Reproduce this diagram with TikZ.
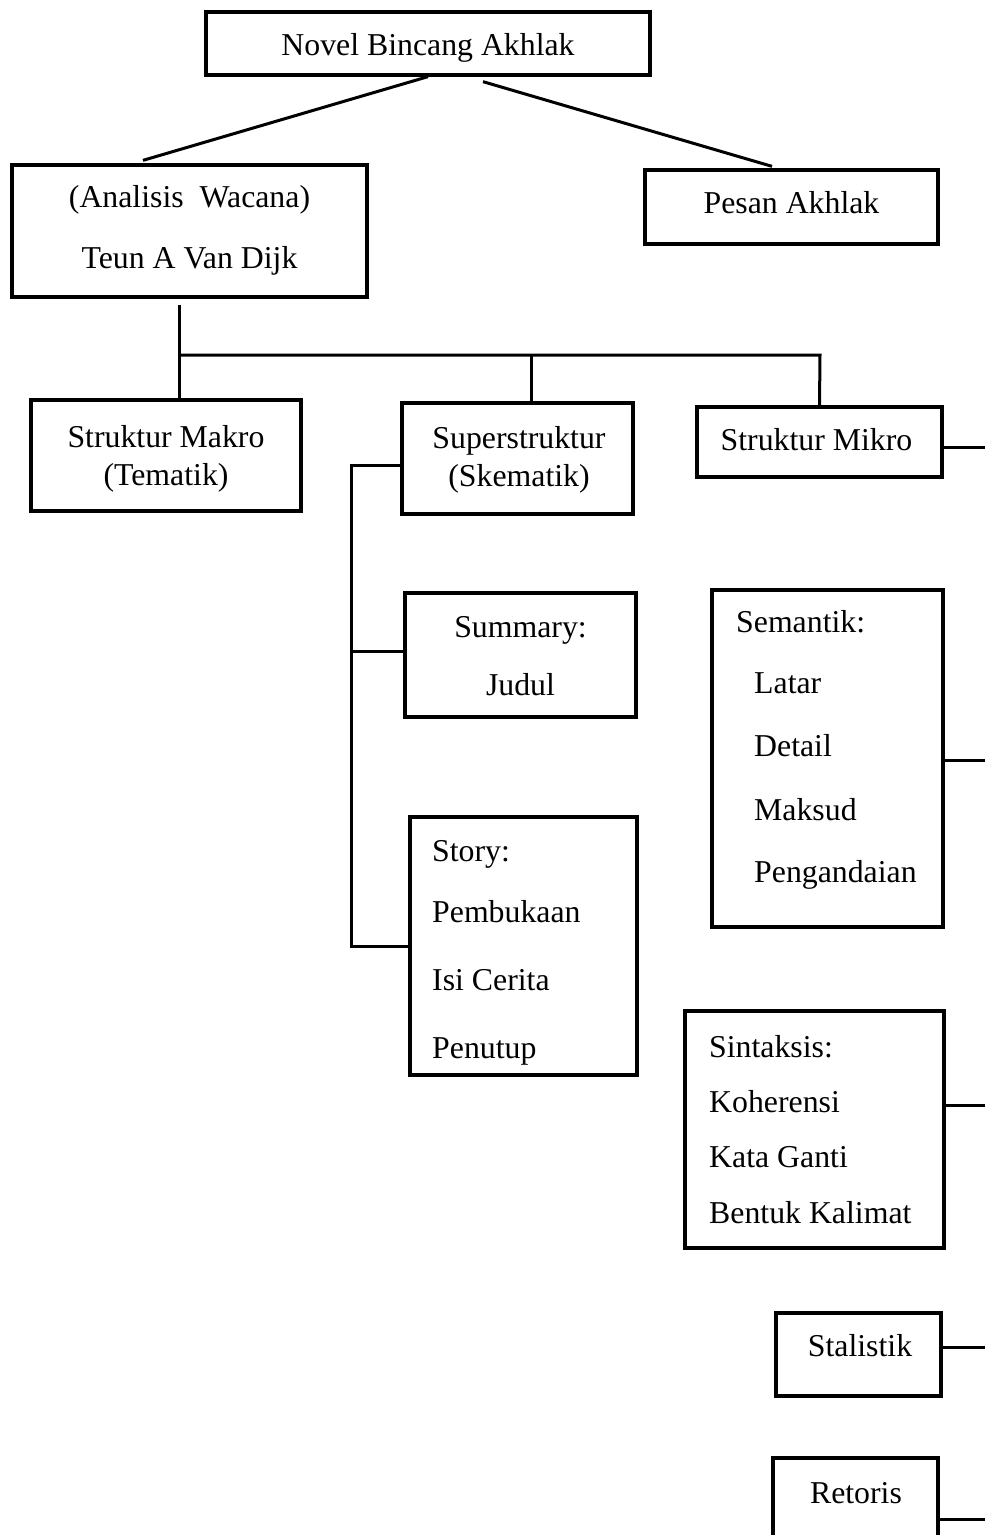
\documentclass[tikz,border=0pt]{standalone}
\usepackage{fontspec}
\setmainfont{Liberation Serif}
\usetikzlibrary{calc}
\begin{document}
\begin{tikzpicture}[x=1pt,y=-1pt,
  box/.style={draw,line width=3.3pt,minimum width=#1,inner sep=0pt},
  txt/.style={inner sep=0pt,font=\fontsize{31.8}{38}\selectfont},
  conn/.style={line width=3pt}]
\useasboundingbox (0,0) rectangle (985,1535);
\clip (0,0) rectangle (985,1535);
\fill[white] (0,0) rectangle (985,1535);
% boxes
\node[box=444pt,minimum height=63pt] (novel) at (428,43.5) {};
\node[box=355pt,minimum height=132pt] (ana) at (189.5,231) {};
\node[box=293pt,minimum height=74pt] (pesan) at (791.5,207) {};
\node[box=270pt,minimum height=111pt] (makro) at (166,455.5) {};
\node[box=231pt,minimum height=111pt] (super) at (517.5,458.5) {};
\node[box=245pt,minimum height=70pt] (mikro) at (819.5,442) {};
\node[box=231pt,minimum height=124pt] (summary) at (520.5,655) {};
\node[box=227pt,minimum height=258pt] (story) at (523.5,946) {};
\node[box=231pt,minimum height=337pt] (semantik) at (827.5,758.5) {};
\node[box=259pt,minimum height=237pt] (sintaksis) at (814.5,1129.5) {};
\node[box=165pt,minimum height=83pt] (stalistik) at (858.5,1354.5) {};
\node[box=165pt,minimum height=122pt] (retoris) at (855.5,1519) {};
% texts
\node[txt,anchor=base] (t1) at (428,55) {Novel Bincang Akhlak};
\node[txt,anchor=base] (t2) at (189.5,207) {(Analisis\enspace Wacana)};
\node[txt,anchor=base] (t3) at (189.5,268) {Teun A Van Dijk};
\node[txt,anchor=base] (t4) at (791.5,213) {Pesan Akhlak};
\node[txt,anchor=base] (t5) at (166,447) {Struktur Makro};
\node[txt,anchor=base] (t6) at (166,485) {(Tematik)};
\node[txt,anchor=base] (t7) at (519,448) {Superstruktur};
\node[txt,anchor=base] (t8) at (519,486) {(Skematik)};
\node[txt,anchor=base] (t9) at (816.5,450) {Struktur Mikro};
\node[txt,anchor=base] (t10) at (520.5,637) {Summary:};
\node[txt,anchor=base] (t11) at (520.5,695) {Judul};
\node[txt,anchor=base west] (t12) at (432,861) {Story:};
\node[txt,anchor=base west] (t13) at (432,922) {Pembukaan};
\node[txt,anchor=base west] (t14) at (432,990) {Isi Cerita};
\node[txt,anchor=base west] (t15) at (432,1058) {Penutup};
\node[txt,anchor=base west] (t16) at (736,632) {Semantik:};
\node[txt,anchor=base west] (t17) at (754,693) {Latar};
\node[txt,anchor=base west] (t18) at (754,756) {Detail};
\node[txt,anchor=base west] (t19) at (754,820) {Maksud};
\node[txt,anchor=base west] (t20) at (754,882) {Pengandaian};
\node[txt,anchor=base west] (t21) at (709,1057) {Sintaksis:};
\node[txt,anchor=base west] (t22) at (709,1112) {Koherensi};
\node[txt,anchor=base west] (t23) at (709,1167) {Kata Ganti};
\node[txt,anchor=base west] (t24) at (709,1223) {Bentuk Kalimat};
\node[txt,anchor=base] (t25) at (860,1356) {Stalistik};
\node[txt,anchor=base] (t26) at (856,1503) {Retoris};
% connectors
\draw[conn] (novel.south) -- ([xshift=-46.5pt,yshift=3pt]ana.north);
\draw[conn] ([xshift=55pt,yshift=-5pt]novel.south) -- ([xshift=-19.5pt,yshift=2pt]pesan.north);
\coordinate (j1) at (179,355);
\coordinate (j2) at (820,355);
\draw[conn] ([xshift=-10.5pt,yshift=-6pt]ana.south) -- ([xshift=13pt]makro.north);
\draw[conn] (j1) -- (j2) -- (mikro.north);
\draw[conn] ([xshift=13.5pt]super.north) -- ([xshift=13.5pt]super.north |- j1);
\coordinate (edge) at (995,0);
\draw[conn] ([yshift=-5pt]mikro.east) -- ([yshift=-5pt]mikro.east -| edge);
\draw[conn] ([yshift=-1.5pt]semantik.east) -- ([yshift=-1.5pt]semantik.east -| edge);
\draw[conn] ([yshift=24.5pt]sintaksis.east) -- ([yshift=24.5pt]sintaksis.east -| edge);
\draw[conn] ([yshift=7.5pt]stalistik.east) -- ([yshift=7.5pt]stalistik.east -| edge);
\draw[conn] (retoris.east) -- (retoris.east -| edge);
\draw[conn] ([yshift=-6.5pt]super.west) -- ++(-49pt,0) coordinate (b1) -- (b1 |- story.west) -- (story.west);
\draw[conn] ([yshift=4pt]summary.west) -- ([yshift=4pt]summary.west -| b1);
\end{tikzpicture}
\end{document}
